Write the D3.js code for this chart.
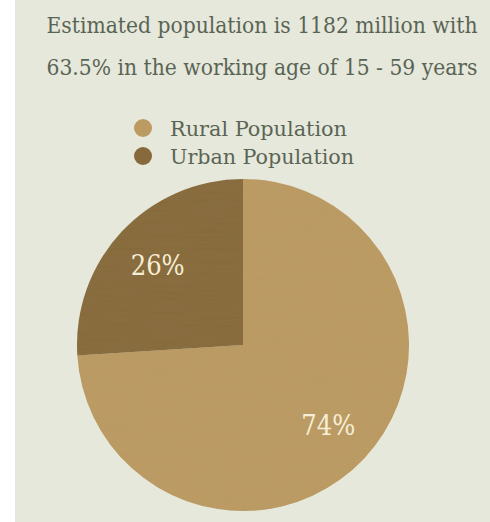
<!DOCTYPE html>
<html>
<head>
<meta charset="utf-8">
<script src="https://cdn.jsdelivr.net/npm/d3@7"></script>
<style>
  html, body { margin: 0; padding: 0; background: #ffffff; }
  svg { display: block; }
</style>
</head>
<body>
<script>
// Population split
const categories = ["Rural Population", "Urban Population"];
const shares = [74, 26];
const colors = ["#bc9b63", "#876a3b"];
const titleLines = [
  "Estimated population is 1182 million with",
  "63.5% in the working age of 15 - 59 years"
];

const W = 490, H = 522;
const svg = d3.select("body").append("svg").attr("width", W).attr("height", H);

// paper grain
const defs = svg.append("defs");
const grain = defs.append("filter").attr("id", "grain").attr("x", 0).attr("y", 0).attr("width", 1).attr("height", 1);
grain.append("feTurbulence").attr("type", "fractalNoise").attr("baseFrequency", "0.02 0.35").attr("numOctaves", 2).attr("seed", 4).attr("result", "noise");
grain.append("feColorMatrix").attr("in", "noise").attr("type", "matrix")
  .attr("values", "0 0 0 0 0.35  0 0 0 0 0.27  0 0 0 0 0.15  0 0 0 0.12 0").attr("result", "tint");
grain.append("feComposite").attr("in", "tint").attr("in2", "SourceGraphic").attr("operator", "in").attr("result", "tinted");
grain.append("feMerge").call(m => { m.append("feMergeNode").attr("in", "SourceGraphic"); m.append("feMergeNode").attr("in", "tinted"); });

// background sheet
svg.append("rect").attr("x", 15).attr("y", 0).attr("width", W - 15).attr("height", H).attr("fill", "#e7e8dc");

// title
const serif = "'DejaVu Serif Condensed', 'Liberation Serif', serif";
const title = svg.append("g");
titleLines.forEach((t, i) => {
  title.append("text")
    .attr("x", 262).attr("y", 33 + i * 42)
    .attr("text-anchor", "middle")
    .attr("font-family", serif)
    .attr("font-size", 22)
    .attr("textLength", 431)
    .attr("lengthAdjust", "spacingAndGlyphs")
    .attr("fill", "#596554")
    .text(t);
});

// legend
const legend = svg.append("g").attr("transform", "translate(143,128)");
categories.forEach((c, i) => {
  const g = legend.append("g").attr("transform", `translate(0,${i * 28})`);
  g.append("circle").attr("r", 9).attr("fill", colors[i]);
  g.append("text")
    .attr("x", 27).attr("y", 8)
    .attr("font-family", serif)
    .attr("font-size", 20)
    .attr("textLength", i === 0 ? 177 : 184)
    .attr("lengthAdjust", "spacingAndGlyphs")
    .attr("fill", "#596554")
    .text(c);
});

// pie
const cx = 243, cy = 345, R = 166;
const pie = d3.pie().sort(null).value(d => d);
const arc = d3.arc().innerRadius(0).outerRadius(R);
const labelArc = d3.arc().innerRadius(117).outerRadius(117);
const arcs = pie(shares);

const pg = svg.append("g").attr("transform", `translate(${cx},${cy})`);
pg.selectAll("path").data(arcs).join("path")
  .attr("d", arc)
  .attr("fill", (d, i) => colors[i])
  .attr("filter", "url(#grain)");

pg.selectAll("text").data(arcs).join("text")
  .attr("transform", d => `translate(${labelArc.centroid(d)})`)
  .attr("text-anchor", "middle")
  .attr("dy", "0.36em")
  .attr("font-family", serif)
  .attr("font-size", 27)
  .attr("fill", "#f6eed6")
  .text(d => d.data + "%");
</script>
</body>
</html>
